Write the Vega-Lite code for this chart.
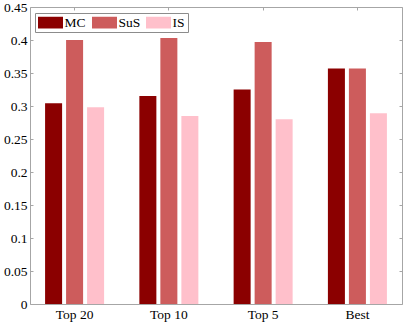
{
  "$schema": "https://vega.github.io/schema/vega-lite/v6.json",
  "width": 372,
  "height": 297,
  "autosize": {"type": "none"},
  "padding": {"left": 30, "top": 7, "right": 5, "bottom": 21},
  "background": "white",
  "config": {
    "font": "Liberation Serif",
    "view": {"stroke": "#a6a6a6", "strokeWidth": 1},
    "axis": {"grid": false, "domain": false, "tickColor": "#a6a6a6", "tickSize": -3, "title": null}
  },
  "data": {"values": [
    {"group": "Top 20", "method": "MC", "value": 0.304},
    {"group": "Top 20", "method": "SuS", "value": 0.400},
    {"group": "Top 20", "method": "IS", "value": 0.298},
    {"group": "Top 10", "method": "MC", "value": 0.315},
    {"group": "Top 10", "method": "SuS", "value": 0.403},
    {"group": "Top 10", "method": "IS", "value": 0.285},
    {"group": "Top 5", "method": "MC", "value": 0.325},
    {"group": "Top 5", "method": "SuS", "value": 0.397},
    {"group": "Top 5", "method": "IS", "value": 0.280},
    {"group": "Best", "method": "MC", "value": 0.357},
    {"group": "Best", "method": "SuS", "value": 0.357},
    {"group": "Best", "method": "IS", "value": 0.289}
  ]},
  "layer": [
    {
      "mark": {"type": "bar"},
      "encoding": {
        "x": {"field": "group", "type": "nominal", "sort": ["Top 20", "Top 10", "Top 5", "Best"],
              "scale": {"paddingInner": 0.374, "paddingOuter": 0.16},
              "axis": {"orient": "bottom", "labelAngle": 0, "labelPadding": 6, "labelFont": "Liberation Serif", "labelFontSize": 13.5, "labelColor": "black", "title": null}},
        "xOffset": {"field": "method", "type": "nominal", "sort": ["MC", "SuS", "IS"],
                    "scale": {"paddingInner": 0.19, "paddingOuter": 0}},
        "y": {"field": "value", "type": "quantitative",
              "scale": {"domain": [0, 0.45], "nice": false, "zero": true},
              "axis": {"orient": "left", "values": [0, 0.05, 0.1, 0.15, 0.2, 0.25, 0.3, 0.35, 0.4, 0.45], "format": "~g", "labelPadding": 6, "labelFont": "Liberation Serif", "labelFontSize": 13.5, "labelColor": "black", "title": null}},
        "color": {"field": "method", "type": "nominal", "sort": ["MC", "SuS", "IS"],
                  "scale": {"domain": ["MC", "SuS", "IS"], "range": ["#8b0000", "#cd5c5c", "#ffc0cb"]},
                  "legend": {"title": null, "orient": "none", "legendX": 5, "legendY": 6, "direction": "horizontal",
                             "symbolType": "M-1,-0.94H3V0.94H-1Z", "symbolSize": 156, "symbolStrokeWidth": 0, "symbolOpacity": 1,
                             "labelFont": "Liberation Serif", "labelFontSize": 13.5, "labelColor": "black", "labelOffset": 13.5,
                             "columnPadding": 5, "gridAlign": "each", "padding": 2.5,
                             "strokeColor": "#8c8c8c", "fillColor": "white"}}
      }
    },
    {
      "mark": {"type": "bar", "opacity": 0},
      "encoding": {
        "x": {"field": "group", "type": "nominal", "sort": ["Top 20", "Top 10", "Top 5", "Best"],
              "axis": {"orient": "top", "labels": false, "title": null}},
        "y": {"field": "value", "type": "quantitative",
              "axis": {"orient": "right", "labels": false, "values": [0, 0.05, 0.1, 0.15, 0.2, 0.25, 0.3, 0.35, 0.4, 0.45], "title": null}}
      }
    }
  ],
  "resolve": {"axis": {"x": "independent", "y": "independent"}}
}
